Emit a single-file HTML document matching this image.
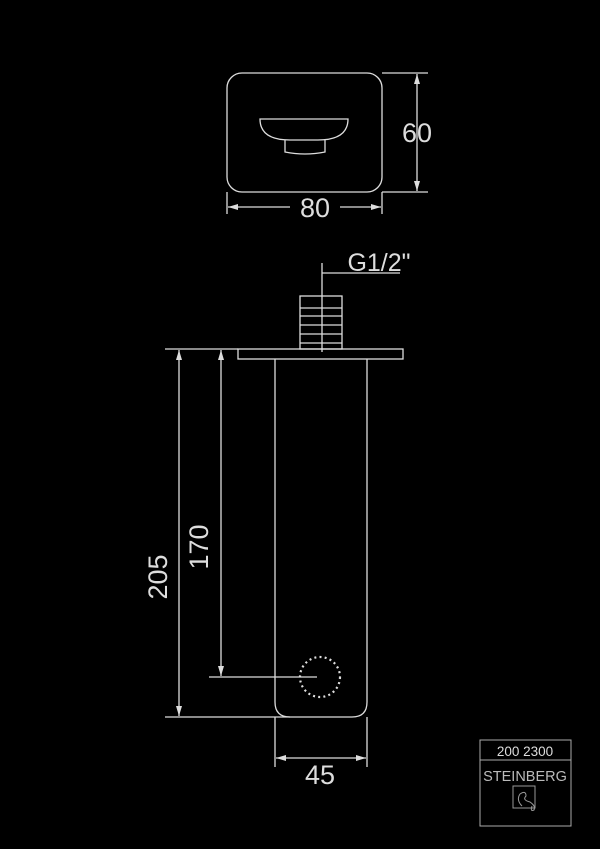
<!DOCTYPE html>
<html><head><style>html,body{margin:0;background:#000}svg{display:block}</style></head>
<body>
<svg width="600" height="849" viewBox="0 0 600 849" xmlns="http://www.w3.org/2000/svg">
<defs>
<marker id="a" viewBox="0 0 10 6" refX="10" refY="3" markerWidth="10" markerHeight="6" orient="auto-start-reverse" markerUnits="userSpaceOnUse"><path d="M0,0 L10,3 L0,6 z" fill="#ddd"/></marker>
</defs>
<g fill="none" stroke="#ddd" stroke-width="1.3">
<rect x="227" y="73" width="155" height="119" rx="15"/>
<path d="M260,119 L348,119 Q348,140 318,140 L290,140 Q260,140 260,119 Z"/>
<path d="M285,140 L285,152 Q305,156 325,152 L325,140"/>
<line x1="382" y1="73" x2="428" y2="73"/>
<line x1="382" y1="192" x2="428" y2="192"/>
<line x1="417" y1="74" x2="417" y2="191" marker-start="url(#a)" marker-end="url(#a)"/>
<line x1="227" y1="192" x2="227" y2="214"/>
<line x1="382" y1="192" x2="382" y2="214"/>
<line x1="228" y1="207" x2="290" y2="207" marker-start="url(#a)"/>
<line x1="340" y1="207" x2="381" y2="207" marker-end="url(#a)"/>
<line x1="322" y1="263" x2="322" y2="352"/>
<line x1="322" y1="273" x2="400" y2="273"/>
<rect x="300" y="296" width="42" height="53"/>
<line x1="300" y1="308" x2="342" y2="308"/>
<line x1="300" y1="316" x2="342" y2="316"/>
<line x1="300" y1="325" x2="342" y2="325"/>
<line x1="300" y1="334" x2="342" y2="334"/>
<line x1="300" y1="343" x2="342" y2="343"/>
<rect x="238" y="349" width="165" height="10"/>
<line x1="165" y1="349" x2="238" y2="349"/>
<path d="M275,359 L275,702 Q275,717 290,717 L352,717 Q367,717 367,702 L367,359"/>
<line x1="165" y1="717" x2="290" y2="717"/>
<line x1="209" y1="677" x2="317" y2="677"/>
<circle cx="320" cy="677" r="20" stroke-dasharray="2 3.2" stroke-width="2.2"/>
<line x1="179" y1="350" x2="179" y2="716" marker-start="url(#a)" marker-end="url(#a)"/>
<line x1="221" y1="350" x2="221" y2="676" marker-start="url(#a)" marker-end="url(#a)"/>
<line x1="275" y1="717" x2="275" y2="767"/>
<line x1="367" y1="717" x2="367" y2="767"/>
<line x1="276" y1="758" x2="366" y2="758" marker-start="url(#a)" marker-end="url(#a)"/>
<rect x="480" y="740" width="91" height="86" stroke="#aaa" stroke-width="1"/>
<line x1="480" y1="760" x2="571" y2="760" stroke="#aaa" stroke-width="1"/>
<rect x="513" y="786" width="22" height="22" stroke="#999" stroke-width="1"/>
<path d="M522,806 Q516,800 520,794 Q526,790 526,796 Q522,800 530,802 Q536,806 534,810 Q530,812 532,806" stroke="#999" stroke-width="1"/>
</g>
<g fill="#ddd" font-family="Liberation Sans, sans-serif" font-size="27" text-anchor="middle">
<text x="417" y="142">60</text>
<text x="315" y="217">80</text>
<text x="379" y="271" font-size="25">G1/2"</text>
<text x="320" y="784">45</text>
<text transform="translate(167,577) rotate(-90)">205</text>
<text transform="translate(208,547) rotate(-90)">170</text>
<text x="525" y="756" font-size="13.5">200 2300</text>
<text x="525" y="781" font-size="14.5" fill="#bbb">STEINBERG</text>
</g>
</svg>
</body></html>
